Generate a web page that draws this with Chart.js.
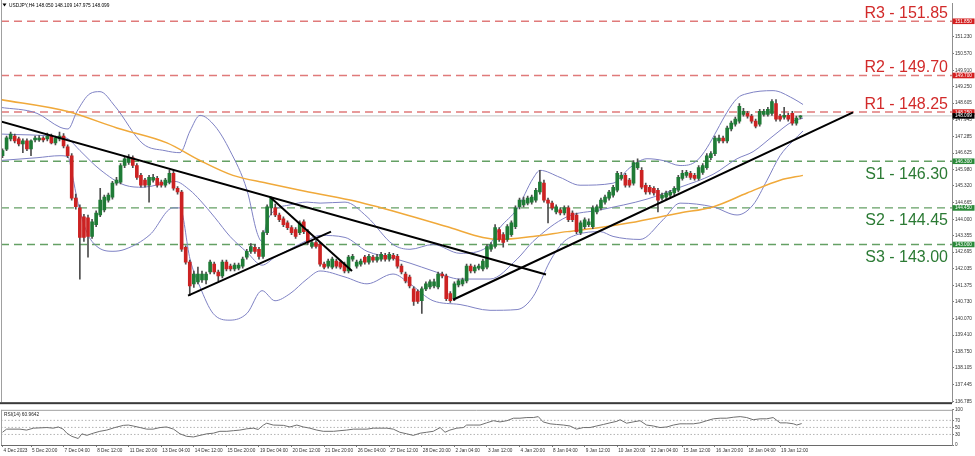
<!DOCTYPE html>
<html>
<head>
<meta charset="utf-8">
<title>USDJPY H4</title>
<script src="https://cdn.jsdelivr.net/npm/chart.js@4.4.1/dist/chart.umd.min.js"></script>
<style>
html,body{margin:0;padding:0;background:#ffffff;overflow:hidden;}
#main{position:absolute;left:0;top:0;}
#rsi{position:absolute;left:0;top:406px;}
</style>
</head>
<body>
<canvas id="main" width="975" height="406"></canvas>
<canvas id="rsi" width="975" height="50"></canvas>
<script>
// ---------- DATA ----------
const symbolName = 'USDJPY,H4';
const opens = [
146.52,146.78,147.19,147.30,147.19,146.99,147.11,146.79,147.15,147.15,
147.22,147.19,147.30,147.03,147.19,147.30,146.87,146.52,144.84,144.45,
144.10,144.06,143.32,143.79,144.17,144.37,144.76,144.88,145.43,145.47,
146.13,146.25,146.44,146.13,145.74,145.55,145.35,145.55,145.62,145.47,
145.35,145.47,145.82,145.23,145.08,142.89,142.30,141.44,141.52,141.60,
141.60,141.91,142.22,141.91,141.75,142.30,142.14,142.03,142.06,142.14,
142.50,142.73,142.89,142.81,142.53,143.47,144.45,144.45,144.17,144.02,
143.86,143.67,143.59,143.47,143.90,143.51,142.92,143.08,143.00,142.22,
142.14,142.10,142.34,142.30,142.22,141.95,142.42,142.14,142.22,142.50,
142.30,142.50,142.38,142.42,142.57,142.42,142.57,142.53,142.14,141.83,
141.71,141.24,141.13,140.77,141.24,141.32,141.36,141.32,141.83,141.75,
141.05,140.85,141.40,141.44,141.56,142.14,141.95,142.06,142.03,142.10,
142.81,142.92,143.59,143.39,143.20,143.39,143.71,144.49,144.57,144.64,
144.68,144.76,145.08,145.43,144.76,144.64,144.29,144.37,144.25,144.45,
144.25,144.17,143.47,143.71,143.79,143.71,144.29,144.45,144.68,144.84,
144.96,145.15,145.62,145.74,145.55,145.43,146.05,145.94,145.35,145.27,
145.23,145.15,144.84,144.88,144.96,145.04,145.15,145.62,145.74,145.82,
145.74,145.62,145.86,146.05,146.44,146.60,147.11,147.22,147.11,147.58,
147.77,147.89,148.16,148.20,148.09,147.89,147.77,148.16,148.16,148.20,
148.59,148.09,148.05,148.12,148.20,147.81,148.050];
const highs = [
146.79,147.30,147.46,147.38,147.26,147.19,147.19,147.15,147.30,147.32,
147.28,147.42,147.38,147.30,147.46,147.40,146.95,146.60,145.00,144.57,
144.20,144.17,144.00,144.33,145.23,144.96,145.04,145.50,145.66,146.21,
146.48,146.56,146.52,146.21,145.82,145.62,145.74,145.78,145.70,145.55,
145.62,145.94,145.94,145.30,145.15,142.95,142.38,141.95,142.10,141.95,
141.91,142.38,142.30,141.99,142.38,142.38,142.22,142.26,142.26,142.50,
142.81,143.04,143.00,142.89,143.55,144.57,144.88,144.60,144.25,144.10,
143.94,143.75,143.67,143.94,143.98,143.59,143.16,143.16,143.08,142.30,
142.42,142.50,142.42,142.38,142.30,142.57,142.61,142.38,142.42,142.57,
142.61,142.57,142.61,142.69,142.65,142.69,142.65,142.61,142.22,141.91,
141.79,141.32,141.20,141.32,141.52,141.60,141.63,141.91,141.91,141.83,
141.13,141.52,141.63,141.67,142.22,142.22,142.18,142.22,142.42,143.00,
143.08,143.79,143.67,143.47,143.79,143.94,144.53,144.84,144.88,144.92,
144.96,145.23,145.94,145.55,144.84,144.72,144.57,144.45,144.53,144.53,
144.33,144.25,143.94,144.06,144.02,144.53,144.57,144.84,144.96,145.15,
145.35,145.90,145.86,145.82,145.62,146.33,146.40,146.05,145.43,145.35,
145.30,145.23,145.04,145.12,145.15,145.30,145.74,145.94,145.94,145.90,
145.82,146.13,146.21,146.60,146.68,147.30,147.34,147.30,147.69,147.89,
148.05,148.59,148.40,148.28,148.16,147.97,148.36,148.36,148.44,148.75,
148.75,148.16,148.44,148.20,148.28,148.09,148.109];
const lows = [
146.44,146.72,147.11,147.03,146.91,146.64,146.72,146.52,147.07,147.09,
147.07,147.11,146.99,146.95,147.11,146.83,146.44,144.76,144.40,141.63,
143.12,142.50,143.24,143.71,144.10,144.29,144.68,144.80,145.35,145.40,
146.05,146.17,146.05,145.58,145.27,145.27,144.68,145.47,145.27,145.27,
145.27,145.40,145.15,145.00,142.73,142.22,140.97,141.30,141.44,141.50,
141.44,141.83,141.83,141.56,141.67,141.95,141.95,141.95,141.99,142.06,
142.42,142.65,142.65,142.42,142.45,143.39,144.17,144.10,143.90,143.71,
143.59,143.39,143.24,143.39,143.43,143.00,142.85,142.85,142.14,142.03,
142.06,142.03,142.06,142.03,141.87,141.87,142.34,142.06,142.14,142.22,
142.22,142.30,142.30,142.34,142.34,142.34,142.38,142.06,141.83,141.48,
141.28,140.58,140.66,140.27,141.17,141.24,141.28,141.24,141.67,140.77,
140.70,140.77,141.32,141.36,141.48,141.87,141.87,141.99,141.95,142.03,
142.73,142.85,143.12,142.89,143.12,143.32,143.63,144.41,144.49,144.57,
144.60,144.68,145.00,144.68,143.86,144.37,144.21,144.17,144.17,143.90,
143.90,143.43,143.39,143.63,143.71,143.63,144.21,144.37,144.60,144.76,
144.88,145.08,145.55,145.27,145.27,145.35,145.98,145.20,145.00,145.00,
144.96,144.29,144.76,144.80,144.88,144.96,145.08,145.55,145.66,145.58,
145.55,145.55,145.78,145.98,146.36,146.52,147.03,147.03,147.03,147.50,
147.69,147.81,148.09,148.01,147.81,147.62,147.69,148.09,148.09,148.12,
147.89,147.89,147.97,147.89,147.73,147.73,147.975];
const closes = [
146.72,147.23,147.38,147.11,146.99,147.11,146.79,147.11,147.22,147.22,
147.15,147.30,147.03,147.22,147.30,146.91,146.52,144.84,144.50,143.28,
143.28,143.32,143.90,144.25,144.76,144.88,144.96,145.43,145.55,146.13,
146.40,146.44,146.13,145.66,145.35,145.35,145.66,145.66,145.35,145.35,
145.55,145.82,145.23,145.08,142.81,142.30,141.36,141.83,141.83,141.83,
141.83,142.30,141.91,141.75,142.30,142.03,142.03,142.18,142.18,142.42,
142.73,142.92,142.73,142.53,143.47,144.49,144.84,144.17,143.98,143.79,
143.67,143.47,143.32,143.86,143.51,143.08,143.08,142.92,142.22,142.10,
142.34,142.42,142.14,142.10,141.95,142.50,142.53,142.30,142.34,142.30,
142.53,142.38,142.50,142.61,142.42,142.61,142.45,142.14,141.91,141.56,
141.36,140.74,140.74,141.24,141.44,141.52,141.52,141.83,141.75,140.85,
140.77,141.44,141.56,141.60,142.14,141.95,142.10,142.14,142.34,142.92,
143.00,143.67,143.20,143.08,143.71,143.86,144.45,144.76,144.76,144.84,
144.88,145.15,145.47,144.76,144.64,144.45,144.49,144.25,144.45,143.98,
143.98,143.51,143.86,143.98,143.90,144.45,144.49,144.76,144.88,145.08,
145.27,145.82,145.74,145.35,145.35,146.25,146.25,145.27,145.08,145.08,
145.04,144.76,144.96,145.04,145.08,145.23,145.66,145.82,145.86,145.66,
145.62,146.05,146.13,146.52,146.60,147.22,147.22,147.11,147.62,147.81,
147.97,148.48,148.28,148.09,147.89,147.69,148.28,148.28,148.36,148.67,
147.97,147.97,148.12,147.97,147.81,148.01,148.099];

// Moving average (orange) read at sample bars
const maBars = [-0.61,15.8,28.1,40.4,48.5,56.6,65.0,73.1,85.4,97.6,109.9,118.0,122.2,130.3,138.7,146.8,154.1,166.4,174.5,182.9,191.0,196.6];
const maVals = [148.75,148.28,147.62,147.03,146.33,145.74,145.43,145.15,144.76,144.25,143.67,143.28,143.20,143.32,143.51,143.67,143.86,144.25,144.49,145.04,145.55,145.74];

// Bollinger bands read at sample bars
const bbUpBars = [-0.61,8.47,14.12,16.09,18.30,21.49,23.95,27.63,34.51,39.92,43.60,46.06,48.51,52.20,55.88,60.06,62.52,63.74,64.97,66.94,70.62,74.80,78.00,84.14,89.54,95.93,100.10,105.75,112.39,119.02,122.21,126.39,130.32,132.04,136.95,141.86,149.97,154.14,158.32,162.25,166.43,170.60,180.43,182.88,189.27,194.18,196.64];
const bbUpVals = [148.44,148.20,147.65,147.58,148.28,148.98,149.06,148.48,146.99,146.72,146.64,147.50,148.12,147.69,146.72,145.15,143.47,143.12,143.90,144.37,144.57,144.68,144.64,144.68,144.10,143.00,142.81,143.00,142.65,142.89,143.67,144.41,145.62,145.94,145.66,145.35,145.43,146.05,146.40,146.33,146.13,146.33,148.79,148.98,149.10,148.79,148.55];
const bbMidBars = [-0.61,14.12,16.09,19.04,23.95,30.09,34.51,42.37,46.06,48.51,52.20,55.88,60.06,63.74,66.94,70.62,74.80,78.00,84.14,89.54,95.93,100.10,105.75,112.39,119.75,126.39,130.32,138.67,146.78,158.32,166.43,174.53,180.43,184.36,189.27,194.18,196.64];
const bbMidVals = [147.38,147.26,147.19,146.72,145.97,145.35,145.27,145.50,145.15,144.76,144.06,143.32,142.69,142.18,142.50,142.81,143.16,143.36,143.28,142.73,142.46,142.26,141.95,141.63,141.63,142.42,143.12,144.10,144.37,144.80,145.27,145.78,146.40,146.68,147.30,147.89,148.01];
const bbLowBars = [-0.61,8.47,14.12,16.09,17.07,18.55,20.76,23.21,27.14,30.09,36.23,41.88,43.60,46.06,48.51,51.71,55.88,60.06,63.74,66.94,70.62,74.80,78.00,84.14,89.54,95.93,100.10,105.75,112.39,119.75,126.39,130.32,134.49,137.69,141.12,146.78,149.97,156.60,162.25,166.43,174.53,180.43,184.36,187.80,190.99,194.18,196.64];
const bbLowVals = [146.33,146.44,146.52,146.48,145.82,144.64,143.47,142.92,142.73,142.81,143.39,144.45,144.45,142.42,141.32,140.27,140.00,140.27,141.17,140.77,141.05,141.63,141.95,141.71,141.44,141.83,141.44,140.77,140.62,140.39,140.42,140.93,142.34,143.08,143.39,143.51,143.32,143.20,143.98,144.64,144.49,144.17,144.57,145.55,146.52,147.11,147.50];

// Trend lines [bar, price] pairs
const trendA = [[-0.61,147.89],[133.5,141.81]];
const trendB = [[45.57,140.97],[80.69,143.51]];
const trendC = [[65.71,144.88],[85.85,141.95]];
const trendD = [[110.66,140.81],[208.92,148.24]];

// Support / resistance
const resistNames = ['R3','R2','R1'];
const resistLevels = [151.85,149.70,148.25];
const supportNames = ['S1','S2','S3'];
const supportLevels = [146.30,144.45,143.00];

// Price axis ticks
const priceTicks = [151.230,150.570,149.910,149.250,148.605,147.945,147.285,146.625,145.980,145.320,144.665,144.000,143.355,142.695,142.035,141.375,140.730,140.070,139.410,138.750,138.105,137.445,136.785];

// Time axis labels
const dateLabels = ['4 Dec 2023','5 Dec 20:00','7 Dec 04:00','8 Dec 12:00','11 Dec 20:00','13 Dec 04:00','14 Dec 12:00','15 Dec 20:00','19 Dec 04:00','20 Dec 12:00','21 Dec 20:00','26 Dec 04:00','27 Dec 12:00','28 Dec 20:00','2 Jan 04:00','3 Jan 12:00','4 Jan 20:00','8 Jan 04:00','9 Jan 12:00','10 Jan 20:00','12 Jan 04:00','15 Jan 12:00','16 Jan 20:00','18 Jan 04:00','19 Jan 12:00'];
const dateTickBars = [0,7,15,23,31,39,47,55,63,71,79,87,95,103,111,119,127,135,143,151,159,167,175,183,191];

// RSI(14)
const rsiBars = [0,1.0,4.3,5.9,7.6,10.9,12.5,13.7,14.9,15.8,17.0,18.6,19.5,20.7,22.3,23.9,25.6,27.6,29.7,30.9,32.1,33.8,35.4,37.0,38.7,40.3,42.0,43.6,45.2,46.9,48.5,50.2,51.8,53.4,55.1,56.7,58.3,60.0,61.6,62.8,64.1,64.9,66.5,69.0,70.6,72.3,73.9,75.5,77.2,78.8,81.3,82.9,84.5,86.2,87.8,89.5,91.1,92.7,94.4,96.0,97.6,99.3,100.9,102.6,104.2,105.8,107.5,108.7,109.9,111.6,113.2,114.0,115.6,117.3,118.9,120.6,122.2,123.9,125.5,127.1,128.8,130.4,131.6,132.8,134.5,136.1,137.8,139.4,141.0,142.7,144.3,145.9,147.6,149.2,150.9,151.7,153.3,154.9,156.6,158.2,159.9,161.5,163.2,164.8,166.4,168.1,169.7,171.3,173.0,174.6,176.3,177.9,179.5,181.2,182.8,184.4,186.1,187.7,189.3,191.0,192.6,194.3,195.1,196.3];
const rsiVals = [36.2,45.1,45.1,42.4,47.8,49.6,47.8,51.3,45.1,33.6,24.7,18.4,31.8,27.3,33.6,38.9,42.4,49.6,55.8,56.7,54.0,49.6,45.1,45.1,49.6,51.3,45.1,31.8,24.7,22.9,27.3,31.8,33.6,38.9,38.9,40.7,42.4,46.0,47.8,44.2,56.7,62.0,56.7,55.8,51.3,56.7,51.3,47.8,42.4,38.9,38.9,40.7,42.4,45.1,45.1,45.1,47.8,47.8,47.8,45.1,36.2,31.8,27.3,33.6,36.2,38.9,49.6,36.2,42.4,47.8,49.6,56.7,56.7,56.7,62.9,69.1,65.6,69.1,76.2,76.2,78.0,78.0,80.7,65.6,60.2,58.4,56.7,54.0,45.1,49.6,49.6,54.0,58.4,62.9,67.3,71.8,62.0,65.6,69.1,56.7,54.0,49.6,51.3,56.7,60.2,60.2,60.2,62.9,69.1,74.4,76.2,76.2,78.9,80.7,78.0,71.8,74.4,74.4,78.0,62.9,62.9,60.2,56.7,60.9642];
const rsiLevels = [70,50,30];
const rsiTicks = [100,70,50,30,0];

// ---------- STYLE / LAYOUT ----------
const FONT = '"Liberation Sans", Arial, sans-serif';
const UP = '#1f7b36', DOWN = '#cc2222', WICK = '#4d4d4d';
const RED_TXT = '#d22a2a', GREEN_TXT = '#2b7a34';
const RED_LINE = '#e07a7a', GREEN_LINE = '#64a064';
const X_MIN = -0.37, X_MAX = 233.23;
const Y_MIN = 136.748, Y_MAX = 152.542;
Chart.defaults.font.family = FONT;

const N = opens.length;
const pts = (xs, ys) => xs.map((x, i) => ({x: x, y: ys[i]}));
const pair = arr => arr.map(p => ({x: p[0], y: p[1]}));
const hline = v => [{x: X_MIN, y: v}, {x: X_MAX, y: v}];
const lineDs = (data, color, width, order, extra) => Object.assign(
  {type: 'line', data: data, borderColor: color, borderWidth: width, pointRadius: 0, fill: false, order: order}, extra || {});

const bodyData = opens.map((o, i) => ({x: i, y: [o, closes[i]]}));
const wickData = highs.map((h, i) => ({x: i, y: [lows[i], h]}));
const bodyColors = opens.map((o, i) => closes[i] >= o ? UP : DOWN);
const lastClose = closes[N - 1];

const mainDatasets = [
  {type: 'bar', data: bodyData, backgroundColor: bodyColors, borderWidth: 0, barThickness: 3, grouped: false, minBarLength: 1, order: 3},
  {type: 'bar', data: wickData, backgroundColor: WICK, borderWidth: 0, barThickness: 1, grouped: false, order: 4},
  lineDs(pts(bbUpBars, bbUpVals), '#7f82c4', 1, 6, {cubicInterpolationMode: 'monotone'}),
  lineDs(pts(bbMidBars, bbMidVals), '#7f82c4', 1, 6, {cubicInterpolationMode: 'monotone'}),
  lineDs(pts(bbLowBars, bbLowVals), '#7f82c4', 1, 6, {cubicInterpolationMode: 'monotone'}),
  lineDs(pts(maBars, maVals), '#f0a93a', 1.5, 5, {cubicInterpolationMode: 'monotone'}),
  lineDs(hline(lastClose), '#c4c4c4', 1, 8),
  lineDs(pair(trendA), '#000000', 2, 1),
  lineDs(pair(trendB), '#000000', 2, 1),
  lineDs(pair(trendC), '#000000', 2, 1),
  lineDs(pair(trendD), '#000000', 2, 1)
];
resistLevels.forEach(v => mainDatasets.push(lineDs(hline(v), RED_LINE, 1.4, 7, {borderDash: [8, 5]})));
supportLevels.forEach(v => mainDatasets.push(lineDs(hline(v), GREEN_LINE, 1.4, 7, {borderDash: [8, 5]})));

const mainPlugin = {
  id: 'mainDecor',
  afterDraw(chart) {
    const ctx = chart.ctx, a = chart.chartArea, y = chart.scales.y;
    ctx.save();
    // frame
    ctx.strokeStyle = '#a0a0a0'; ctx.lineWidth = 1;
    ctx.beginPath(); ctx.moveTo(a.left + 0.5, 0); ctx.lineTo(a.left + 0.5, a.bottom); ctx.stroke();
    ctx.fillStyle = '#3a3a3a';
    ctx.fillRect(0, a.bottom, a.right, 2);
    // S/R texts
    ctx.font = '16px ' + FONT;
    ctx.textAlign = 'right'; ctx.textBaseline = 'alphabetic';
    resistLevels.forEach((v, i) => {
      ctx.fillStyle = RED_TXT;
      ctx.fillText(resistNames[i] + ' - ' + v.toFixed(2), 948, y.getPixelForValue(v) - 3.5);
    });
    supportLevels.forEach((v, i) => {
      ctx.fillStyle = GREEN_TXT;
      ctx.fillText(supportNames[i] + ' - ' + v.toFixed(2), 948, y.getPixelForValue(v) + 17.5);
    });
    // price axis highlight boxes
    ctx.font = '4.7px ' + FONT;
    ctx.textAlign = 'left'; ctx.textBaseline = 'middle';
    const box = (v, col) => {
      const py = y.getPixelForValue(v);
      ctx.fillStyle = col; ctx.fillRect(a.right + 0.5, py - 2.8, 22, 5.6);
      ctx.fillStyle = '#ffffff'; ctx.fillText(v.toFixed(3), a.right + 3, py + 0.2);
    };
    resistLevels.forEach(v => box(v, '#d42020'));
    supportLevels.forEach(v => box(v, '#2b8a3a'));
    box(lastClose, '#000000');
    // header
    ctx.fillStyle = '#000000';
    ctx.beginPath(); ctx.moveTo(2.5, 3.6); ctx.lineTo(6.5, 3.6); ctx.lineTo(4.5, 6.6); ctx.closePath(); ctx.fill();
    ctx.font = '4.8px ' + FONT; ctx.textBaseline = 'middle';
    ctx.fillText(symbolName + ' ' + opens[N-1].toFixed(3) + ' ' + highs[N-1].toFixed(3) + ' ' + lows[N-1].toFixed(3) + ' ' + closes[N-1].toFixed(3), 9, 5.3);
    ctx.restore();
  }
};

new Chart(document.getElementById('main'), {
  type: 'bar',
  data: {datasets: mainDatasets},
  options: {
    responsive: false, animation: false, events: [],
    layout: {padding: {left: 1, right: 0, top: 1, bottom: 1}, autoPadding: false},
    plugins: {legend: {display: false}, tooltip: {enabled: false}},
    scales: {
      x: {type: 'linear', min: X_MIN, max: X_MAX, display: false, offset: false},
      y: {
        type: 'linear', position: 'right', min: Y_MIN, max: Y_MAX,
        afterBuildTicks: ax => { ax.ticks = priceTicks.map(v => ({value: v})); },
        afterFit: ax => { ax.width = 23; },
        ticks: {autoSkip: false, font: {family: FONT, size: 4.7}, color: '#333333', padding: 1, callback: v => Number(v).toFixed(3)},
        grid: {drawOnChartArea: false, drawTicks: true, tickLength: 2, color: '#777777'},
        border: {display: true, color: '#8f8f8f', width: 1}
      }
    }
  },
  plugins: [mainPlugin]
});

const rsiPlugin = {
  id: 'rsiDecor',
  afterDraw(chart) {
    const ctx = chart.ctx, a = chart.chartArea;
    ctx.save();
    ctx.strokeStyle = '#a0a0a0'; ctx.lineWidth = 1;
    ctx.beginPath(); ctx.moveTo(a.left + 0.5, a.top); ctx.lineTo(a.left + 0.5, a.bottom); ctx.stroke();
    ctx.beginPath(); ctx.moveTo(a.left, a.top + 0.5); ctx.lineTo(a.right, a.top + 0.5); ctx.stroke();
    ctx.fillStyle = '#222222';
    ctx.font = '4.8px ' + FONT; ctx.textAlign = 'left'; ctx.textBaseline = 'middle';
    ctx.fillText('RSI(14) ' + rsiVals[rsiVals.length - 1].toFixed(4), 4, a.top + 4.5);
    ctx.restore();
  }
};

const rsiDatasets = [
  {data: pts(rsiBars, rsiVals), borderColor: '#6f6f6f', borderWidth: 1, pointRadius: 0, fill: false, order: 1}
];
rsiLevels.forEach(v => rsiDatasets.push({data: hline(v), borderColor: '#b4b4b4', borderWidth: 1, borderDash: [1.5, 2], pointRadius: 0, fill: false, order: 2}));

new Chart(document.getElementById('rsi'), {
  type: 'line',
  data: {datasets: rsiDatasets},
  options: {
    responsive: false, animation: false, events: [],
    layout: {padding: {left: 1, right: 0, top: 2, bottom: 0}, autoPadding: false},
    plugins: {legend: {display: false}, tooltip: {enabled: false}},
    scales: {
      x: {
        type: 'linear', min: X_MIN, max: X_MAX, offset: false, position: 'bottom',
        afterBuildTicks: ax => { ax.ticks = dateTickBars.map(v => ({value: v})); },
        afterFit: ax => { ax.height = 11; },
        ticks: {autoSkip: false, maxRotation: 0, minRotation: 0, align: 'start', labelOffset: 1, padding: 1,
                font: {family: FONT, size: 4.7}, color: '#333333', callback: (v, i) => dateLabels[i]},
        grid: {drawOnChartArea: false, drawTicks: true, tickLength: 2, color: '#777777'},
        border: {display: true, color: '#6a6a6a', width: 1}
      },
      y: {
        type: 'linear', position: 'right', min: 0, max: 100,
        afterBuildTicks: ax => { ax.ticks = rsiTicks.map(v => ({value: v})); },
        afterFit: ax => { ax.width = 23; },
        ticks: {autoSkip: false, font: {family: FONT, size: 4.7}, color: '#333333', padding: 1, callback: v => String(v)},
        grid: {drawOnChartArea: false, drawTicks: true, tickLength: 2, color: '#777777'},
        border: {display: true, color: '#8f8f8f', width: 1}
      }
    }
  },
  plugins: [rsiPlugin]
});
</script>
</body>
</html>
